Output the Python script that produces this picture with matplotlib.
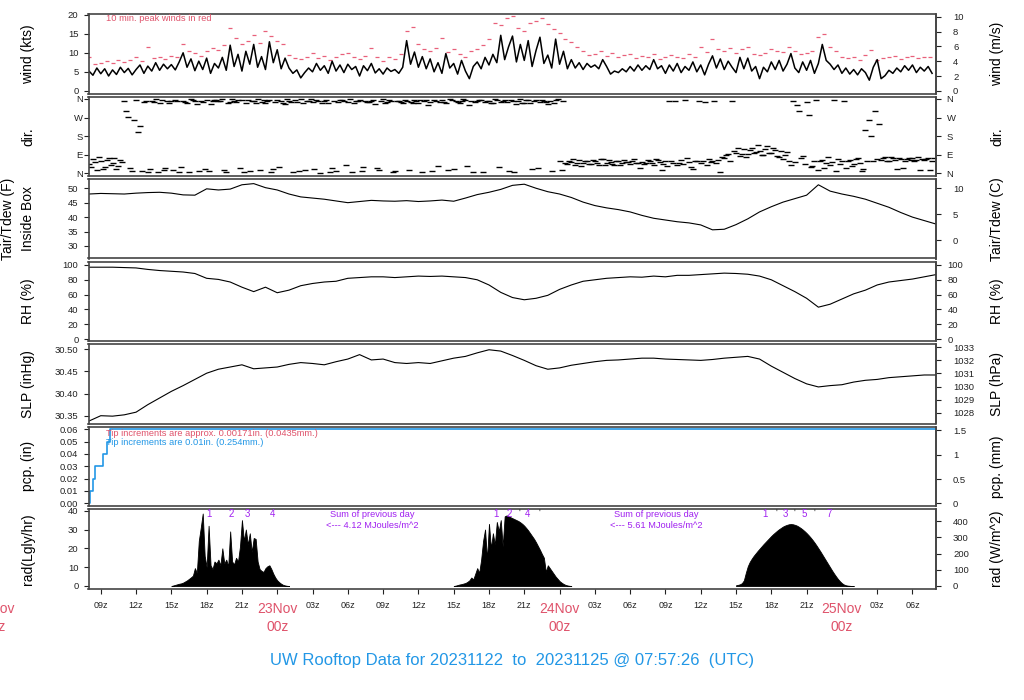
import numpy as np
import matplotlib
matplotlib.use("Agg")
import matplotlib.pyplot as plt
import matplotlib.transforms as mtransforms

plt.rcParams['font.family'] = ['Liberation Sans', 'DejaVu Sans']

# time axis: hours after 22Nov 00z
T0, T1 = 7.957, 79.957

# wind speed (kts), every 20 min starting 22Nov 08z
wind_kts = [
    5.2, 4.1, 6.0, 4.5, 5.8, 3.9, 5.5, 4.3, 6.2, 4.8, 5.9, 4.2,
    5.6, 6.8, 4.6, 6.5, 5.2, 7.4, 5.4, 7.0, 5.8, 6.9, 5.5, 7.6,
    10.0, 6.2, 8.4, 5.3, 7.8, 5.6, 8.6, 4.6, 7.2, 6.0, 8.8, 5.4,
    12.0, 6.4, 9.6, 5.2, 10.4, 7.0, 12.2, 6.2, 9.0, 5.6, 12.9, 7.4,
    10.8, 5.8, 8.6, 6.0, 4.6, 5.5, 3.4, 4.8, 6.0, 5.0, 7.2, 5.4,
    6.6, 4.6, 7.8, 5.2, 6.8, 4.8, 7.0, 5.6, 6.4, 3.9, 6.6, 5.3,
    7.2, 4.7, 5.8, 4.4, 6.0, 5.1, 5.6, 4.6, 6.2, 13.2, 7.0, 10.2,
    6.2, 9.0, 5.8, 8.4, 5.0, 7.4, 4.6, 9.8, 6.0, 7.2, 4.4, 8.0,
    5.2, 3.2, 6.4, 7.6, 5.8, 8.8, 6.8, 9.6, 7.4, 14.6, 8.2, 11.6,
    14.4, 7.6, 12.2, 8.0, 13.2, 6.4, 10.6, 14.1, 7.2, 9.4, 6.0, 13.6,
    7.0, 10.4, 5.8, 8.2, 6.0, 7.4, 5.6, 7.2, 6.2, 6.8, 5.8, 8.2,
    6.4, 4.4, 5.2, 4.8, 5.8, 5.0, 6.4, 5.2, 6.8, 5.4, 6.6, 5.6,
    8.2, 5.8, 6.6, 4.6, 6.8, 5.2, 7.2, 4.8, 6.4, 5.4, 7.6, 5.0,
    6.8, 4.2, 7.0, 9.2, 6.0, 8.4, 5.6, 7.8, 6.2, 4.8, 8.8, 5.8,
    8.6, 5.2, 6.4, 3.2, 6.2, 5.0, 7.6, 5.6, 8.0, 5.2, 7.0, 9.8,
    6.0, 4.8, 7.6, 5.4, 8.0, 4.6, 7.2, 12.2, 8.0, 7.0, 5.6, 6.8,
    4.6, 6.0, 4.4, 5.6, 4.2, 5.8, 4.8, 2.8, 6.2, 8.2, 3.2, 4.0,
    5.4, 4.6, 6.0, 5.0, 6.6, 5.4, 6.8, 4.8, 6.2, 5.2, 6.4, 4.6,
]

# 10 min. peak winds (kts), every 30 min starting 08z
peak_kts = [
    8.8, 7.0, 7.4, 7.8, 7.2, 8.0, 7.6, 8.2, 8.8, 7.8, 11.4, 8.6,
    9.0, 8.4, 9.2, 8.8, 12.2, 10.6, 10.0, 9.2, 10.4, 11.2, 10.8, 12.0,
    16.4, 14.0, 12.2, 13.0, 14.6, 12.6, 15.6, 14.4, 13.0, 12.2, 9.4, 8.6,
    8.4, 9.0, 10.0, 8.6, 9.2, 8.2, 8.8, 9.6, 10.0, 8.8, 8.4, 9.2,
    11.2, 8.8, 7.8, 9.0, 8.4, 9.6, 15.6, 16.8, 12.4, 11.0, 10.4, 11.2,
    13.8, 10.2, 11.0, 9.8, 9.0, 10.6, 11.0, 12.0, 13.6, 17.8, 17.4, 19.2,
    19.6, 16.4, 15.6, 17.8, 18.4, 19.2, 17.6, 16.2, 15.2, 13.6, 12.8, 11.6,
    10.6, 9.4, 9.8, 10.4, 9.2, 10.0, 8.8, 9.4, 9.6, 8.6, 9.2, 8.8,
    9.6, 8.4, 8.8, 9.4, 9.0, 8.6, 9.8, 8.8, 11.6, 10.2, 13.6, 11.0,
    10.6, 11.2, 10.0, 11.0, 11.4, 9.8, 9.4, 10.0, 11.0, 10.4, 10.2, 11.4,
    10.6, 9.6, 10.0, 10.6, 14.2, 15.0, 11.6, 10.4, 9.0, 8.6, 8.8, 8.2,
    9.4, 10.8, 8.0, 8.6, 8.8, 9.2, 8.4, 9.0, 9.2, 8.6, 8.8, 9.0,
]

# wind direction (deg), every 20 min starting 08z
wind_dir = [
    45, 70, 15, 60, 30, 75, 50, 20, 65, 350, 275, 10,
    355, 230, 345, 5, 350, 358, 340, 15, 352, 348, 356, 8,
    352, 342, 358, 350, 12, 346, 356, 338, 354, 348, 358, 5,
    344, 352, 356, 355, 340, 10, 350, 358, 345, 342, 354, 20,
    356, 348, 335, 352, 8, 344, 358, 15, 350, 346, 354, 3,
    352, 340, 25, 12, 356, 348, 344, 5, 352, 355, 30, 347,
    350, 338, 18, 358, 345, 352, 10, 350, 342, 352, 345, 356,
    340, 8, 354, 347, 355, 35, 353, 342, 359, 20, 346, 351,
    356, 330, 6, 348, 354, 343, 352, 340, 357, 345, 355, 12,
    350, 336, 358, 342, 356, 22, 354, 347, 350, 338, 10, 355,
    60, 352, 45, 55, 40, 65, 50, 62, 45, 58, 42, 68,
    48, 55, 40, 62, 50, 57, 45, 68, 52, 55, 48, 60,
    42, 65, 15, 58, 350, 50, 40, 66, 355, 55, 20, 62,
    48, 345, 70, 60, 52, 8, 75, 95, 352, 100, 85, 118,
    92, 125, 105, 110, 88, 130, 96, 115, 80, 70, 105, 40,
    55, 300, 85, 345, 30, 60, 15, 65, 50, 40, 355, 70,
    58, 25, 65, 45, 72, 10, 210, 260, 60, 70, 65, 78,
    62, 75, 20, 68, 58, 74, 72, 64, 15, 66, 76, 60,
]
# second direction reading, every 20 min starting 08:10z
wind_dir_b = [
    30, 55, 80, 20, 65, 40, 75, 35, 55, 300, 25, 260,
    200, 10, 350, 20, 345, 5, 356, 25, 340, 15, 350, 30,
    345, 5, 355, 338, 352, 20, 10, 348, 357, 352, 15, 342,
    358, 346, 25, 8, 354, 348, 340, 18, 356, 352, 4, 346,
    30, 342, 358, 345, 355, 12, 340, 352, 358, 20, 348, 342,
    356, 8, 350, 346, 353, 40, 358, 340, 350, 10, 352, 345,
    354, 28, 348, 342, 356, 8, 350, 346, 355, 15, 340, 352,
    357, 349, 330, 12, 352, 344, 346, 18, 355, 352, 340, 358,
    35, 350, 345, 356, 5, 352, 342, 358, 30, 350, 345, 354,
    8, 352, 342, 357, 340, 350, 25, 355, 345, 350, 342, 358,
    15, 50, 62, 70, 48, 35, 58, 44, 66, 52, 70, 38,
    63, 46, 58, 40, 66, 54, 60, 50, 25, 47, 64, 52,
    68, 55, 45, 35, 60, 348, 52, 44, 72, 30, 58, 350,
    62, 40, 55, 350, 66, 80, 88, 60, 110, 122, 95, 78,
    115, 98, 135, 90, 120, 100, 125, 85, 108, 90, 60, 350,
    330, 75, 45, 280, 35, 355, 60, 25, 80, 55, 10, 45,
    350, 62, 35, 68, 50, 20, 60, 180, 300, 240, 75, 62,
    80, 66, 72, 25, 70, 64, 58, 78, 68, 70, 15, 74,
]

# hourly values starting 08z
tair_f = [
    48.0, 48.2, 48.1, 48.0, 48.3, 48.5, 48.6, 48.3, 47.7, 47.6, 49.8, 49.4,
    49.7, 51.2, 51.6, 50.2, 49.4, 48.0, 47.0, 46.6, 46.2, 45.6, 45.0, 45.4,
    45.8, 45.6, 45.5, 45.7, 45.4, 45.6, 45.9, 45.5, 46.6, 47.8, 48.6, 49.6,
    51.0, 51.4, 50.0, 48.8, 48.0, 46.8, 45.2, 44.0, 43.2, 42.6, 41.8, 40.6,
    39.6, 39.0, 38.4, 38.0, 37.3, 35.6, 35.8, 37.4, 39.4, 41.8, 43.6, 45.2,
    46.4, 47.6, 51.2, 49.0, 48.0, 47.2, 46.2, 44.8, 43.4, 41.6, 40.0, 38.8,
    37.6,
]
rh_pct = [
    97, 97, 97, 96.5, 96, 94, 92.5, 91.5, 90.5, 88.5, 82, 80.5,
    77, 70, 64, 70, 62.5, 66, 72, 75, 77, 78, 82, 83,
    84, 84, 83, 84, 85, 84.5, 85, 84, 83, 80, 73, 63,
    56, 53, 55, 59, 67, 73, 78, 80, 82, 83, 84, 83.5,
    85, 84, 86, 86, 87, 88, 89, 88.5, 87.5, 85, 80, 72,
    64, 55, 43, 47, 54, 61, 66, 73, 77, 79, 81, 84,
    87,
]
slp_inhg = [
    30.338, 30.350, 30.349, 30.352, 30.358, 30.375, 30.390, 30.405, 30.418, 30.432, 30.446, 30.455,
    30.460, 30.465, 30.456, 30.458, 30.460, 30.466, 30.470, 30.468, 30.465, 30.472, 30.478, 30.488,
    30.476, 30.478, 30.470, 30.468, 30.470, 30.468, 30.474, 30.480, 30.484, 30.492, 30.499, 30.496,
    30.486, 30.475, 30.463, 30.455, 30.458, 30.464, 30.468, 30.472, 30.475, 30.476, 30.478, 30.480,
    30.480, 30.478, 30.477, 30.476, 30.475, 30.477, 30.480, 30.482, 30.484, 30.478, 30.462, 30.448,
    30.434, 30.422, 30.415, 30.418, 30.420, 30.426, 30.430, 30.432, 30.436, 30.438, 30.440, 30.442,
    30.442,
]

# precipitation (in), accumulated tips
pcp_hours = [7.96, 8.05, 8.30, 8.50, 9.21, 9.49, 9.78, 79.96]
pcp_in = [0.00, 0.01, 0.02, 0.03, 0.04, 0.05, 0.06, 0.06]

# solar radiation (Lgly/hr), every 10 min for each daylight period
rad_day_start = [15.0, 39.0, 63.0]
rad_day1 = [
    0, 0.3, 0.6, 0.9, 1.2, 1.4, 1.8, 2.4, 3.0, 3.8, 4.6, 5.5,
    9.5, 7.0, 24.0, 31.0, 38.5, 16.0, 10.0, 32.0, 11.0, 9.0, 13.0, 12.0,
    14.0, 11.0, 20.0, 12.0, 14.0, 10.5, 29.0, 13.0, 11.5, 15.0, 13.0, 21.0,
    35.0, 24.0, 30.0, 22.0, 28.0, 18.0, 25.5, 25.0, 13.0, 9.0, 8.0, 7.5,
    9.5, 10.5, 11.0, 9.0, 6.5, 4.5, 3.0, 2.0, 1.2, 0.6, 0.3, 0.1, 0,
]
rad_day2 = [
    0, 0.2, 0.5, 0.8, 1.0, 1.3, 1.6, 2.2, 3.0, 4.5, 3.5, 6.5,
    9.5, 7.0, 14.0, 24.0, 30.0, 14.0, 33.0, 20.0, 28.0, 22.0, 34.0, 29.0,
    35.0, 21.0, 37.0, 37.5, 37.0, 36.5, 36.0, 35.5, 35.0, 34.5, 33.8, 33.0,
    32.0, 30.8, 29.5, 28.0, 26.5, 25.0, 23.2, 21.2, 19.2, 17.0, 15.0, 7.5,
    11.0, 9.5, 8.0, 6.5, 5.0, 3.8, 2.6, 1.8, 1.1, 0.6, 0.3, 0.1, 0,
]
rad_day3 = [
    0.4, 0.6, 0.9, 1.5, 3.0, 7.0, 10.5, 12.8, 14.5, 16.0, 17.3, 18.6,
    19.8, 21.0, 22.2, 23.3, 24.4, 25.5, 26.6, 27.6, 28.5, 29.4, 30.2, 30.9,
    31.6, 32.1, 32.5, 32.8, 32.9, 32.8, 32.5, 32.1, 31.5, 30.8, 30.0, 29.1,
    28.1, 27.0, 25.8, 24.5, 23.1, 21.6, 20.0, 18.4, 16.7, 15.0, 13.3, 11.6,
    9.9, 8.2, 6.6, 5.1, 3.7, 2.5, 1.5, 0.8, 0.4, 0.2, 0.1, 0.0, 0,
]
rad_mark_hours = [18.17, 20.05, 21.49, 23.62, 42.6, 43.7, 44.6, 45.3, 46.3,
                  65.5, 66.4, 67.2, 67.96, 68.8, 69.7, 70.9]
rad_mark_text = ["1", "2", "3", "4", "1", "2", "'", "4", "'",
                 "1", "'", "3", "'", "5", "'", "7"]
rad_sum_hours = [32.05, 56.2]
rad_sum_text = ["4.12", "5.61"]

day_names = ["22Nov", "23Nov", "24Nov", "25Nov"]
day_hours = [0, 24, 48, 72]

RED = "#DF536B"
PINK = "#E8607A"
BLUE = "#2297E6"
PURPLE = "#A020F0"
FRAME = "#444444"

W, H = 1024, 700
fig = plt.figure(figsize=(W / 100, H / 100), dpi=100)

panel_h = 79.5
def make_panel(i, ylim):
    top = 14 + 82.5 * i
    ax = fig.add_axes([88.5 / W, 1 - (top + panel_h) / H, 847 / W, panel_h / H])
    ax.set_xlim(T0, T1)
    ax.set_ylim(*ylim)
    for s in ax.spines.values():
        s.set_color(FRAME)
        s.set_linewidth(1.2)
    ax.tick_params(axis='y', direction='out', length=3.6, width=0.8,
                   labelsize=6.8, pad=3.6, colors='#222222')
    ax.set_xticks([])
    return ax, (top + panel_h / 2)

def add_right(ax, fwd, inv, ticks, labels=None, pad=9):
    sec = ax.secondary_yaxis('right', functions=(fwd, inv))
    sec.set_yticks(ticks)
    if labels is not None:
        sec.set_yticklabels(labels)
    sec.tick_params(direction='out', length=3.6, width=0.8, labelsize=6.8,
                    pad=pad, colors='#222222')
    sec.spines['right'].set_color(FRAME)
    sec.spines['right'].set_linewidth(1.2)
    return sec

def side_labels(yc, left, right, left2=None):
    kw = dict(rotation=90, ha='center', va='center', fontsize=10)
    if left2 is None:
        fig.text(28 / W, 1 - yc / H, left, **kw)
    else:
        fig.text(8 / W, 1 - yc / H, left, **kw)
        fig.text(28 / W, 1 - yc / H, left2, **kw)
    fig.text(997 / W, 1 - yc / H, right, **kw)

hours_wind = T0 + 0.043 + np.arange(len(wind_kts)) / 3.0
hours_peak = T0 + 0.043 + np.arange(len(peak_kts)) / 2.0
hours_dir = T0 + 0.043 + np.arange(len(wind_dir)) / 3.0
hours_dir_b = hours_dir + 1.0 / 6.0
hours_hourly = 8 + np.arange(len(tair_f))

# wind
ax, yc = make_panel(0, (-0.7, 20.2))
ax.plot(hours_peak, peak_kts, ls='none', marker='_', ms=3.5, mew=0.9, color=PINK)
ax.plot(hours_wind, wind_kts, color='black', lw=1.1)
ax.set_yticks([0, 5, 10, 15, 20])
add_right(ax, lambda v: v * 0.514444, lambda v: v / 0.514444, [0, 2, 4, 6, 8, 10])
ax.text(9.47, 0.94, "10 min. peak winds in red", color=RED, fontsize=6.7,
        ha='left', va='center', transform=mtransforms.blended_transform_factory(ax.transData, ax.transAxes))
side_labels(yc, "wind (kts)", "wind (m/s)")

# direction
ax, yc = make_panel(1, (-13, 372))
ax.plot(hours_dir, wind_dir, ls='none', marker='_', ms=4, mew=1.0, color='black')
ax.plot(hours_dir_b, wind_dir_b, ls='none', marker='_', ms=4, mew=1.0, color='black')
ax.set_yticks([0, 90, 180, 270, 360])
ax.set_yticklabels(["N", "E", "S", "W", "N"])
ax.tick_params(axis='y', pad=0.5)
add_right(ax, lambda v: v, lambda v: v, [0, 90, 180, 270, 360], ["N", "E", "S", "W", "N"], pad=4.3)
side_labels(yc, "dir.", "dir.")

# temperature
ax, yc = make_panel(2, (25.67, 53.2))
ax.plot(hours_hourly, tair_f, color='black', lw=0.8)
ax.set_yticks([30, 35, 40, 45, 50])
add_right(ax, lambda v: (v - 32) * 5 / 9, lambda v: v * 9 / 5 + 32, [0, 5, 10])
side_labels(yc, "Tair/Tdew (F)", "Tair/Tdew (C)", left2="Inside Box")

# RH
ax, yc = make_panel(3, (-2.7, 104.7))
ax.plot(hours_hourly, rh_pct, color='black', lw=0.8)
ax.set_yticks([0, 20, 40, 60, 80, 100])
add_right(ax, lambda v: v, lambda v: v, [0, 20, 40, 60, 80, 100], pad=5)
side_labels(yc, "RH (%)", "RH (%)")

# SLP
ax, yc = make_panel(4, (30.3324, 30.512))
ax.plot(hours_hourly, slp_inhg, color='black', lw=0.8)
ax.set_yticks([30.35, 30.40, 30.45, 30.50])
ax.set_yticklabels(["30.35", "30.40", "30.45", "30.50"])
add_right(ax, lambda v: v * 33.8639, lambda v: v / 33.8639, [1028, 1029, 1030, 1031, 1032, 1033])
side_labels(yc, "SLP (inHg)", "SLP (hPa)")

# precipitation
ax, yc = make_panel(5, (-0.0022, 0.0623))
ax.plot(pcp_hours, pcp_in, color=BLUE, lw=1.2, drawstyle='steps-post')
ax.set_yticks([0, 0.01, 0.02, 0.03, 0.04, 0.05, 0.06])
ax.set_yticklabels(["0.00", "0.01", "0.02", "0.03", "0.04", "0.05", "0.06"])
add_right(ax, lambda v: v * 25.4, lambda v: v / 25.4, [0, 0.5, 1, 1.5], ["0", "0.5", "1", "1.5"])
tr = mtransforms.blended_transform_factory(ax.transData, ax.transAxes)
ax.text(9.47, 0.91, "Tip increments are approx. 0.00171in. (0.0435mm.)", color=RED,
        fontsize=6.7, ha='left', va='center', transform=tr)
ax.text(9.47, 0.80, "Tip increments are 0.01in. (0.254mm.)", color=BLUE,
        fontsize=6.7, ha='left', va='center', transform=tr)
side_labels(yc, "pcp. (in)", "pcp. (mm)")

# radiation
ax, yc = make_panel(6, (-1.33, 40.9))
for start, vals in zip(rad_day_start, [rad_day1, rad_day2, rad_day3]):
    hrs = start + np.arange(len(vals)) / 6.0
    ax.fill_between(hrs, 0, vals, color='black', lw=0.6)
ax.set_yticks([0, 10, 20, 30, 40])
add_right(ax, lambda v: v * 11.622, lambda v: v / 11.622, [0, 100, 200, 300, 400])
tr = mtransforms.blended_transform_factory(ax.transData, ax.transAxes)
for h, s in zip(rad_mark_hours, rad_mark_text):
    ax.text(h, 0.935, s, color=PURPLE if s != "'" else '#333333', fontsize=7,
            ha='center', va='center', transform=tr)
for h, s in zip(rad_sum_hours, rad_sum_text):
    ax.text(h, 0.925, "Sum of previous day", color=PURPLE, fontsize=6.7,
            ha='center', va='center', transform=tr)
    ax.text(h, 0.787, "<--- %s MJoules/m^2" % s, color=PURPLE, fontsize=6.7,
            ha='center', va='center', transform=tr)
side_labels(yc, "rad(Lgly/hr)", "rad (W/m^2)")

xt = list(range(9, 80, 3))
ax.set_xticks(xt)
ax.set_xticklabels(["" if h % 24 == 0 else "%02dz" % (h % 24) for h in xt])
ax.tick_params(axis='x', direction='out', length=3.6, width=0.8, labelsize=6.5,
               pad=5.5, colors='#222222')
trf = mtransforms.blended_transform_factory(ax.transData, fig.transFigure)
for d, h in zip(day_names, day_hours):
    ax.text(h, 1 - 609 / H, d, color=RED, fontsize=10, ha='center', va='center',
            transform=trf, clip_on=False)
    ax.text(h, 1 - 627 / H, "00z", color=RED, fontsize=10, ha='center', va='center',
            transform=trf, clip_on=False)

fig.text(0.5, 1 - 660 / H, "UW Rooftop Data for 20231122  to  20231125 @ 07:57:26  (UTC)",
         color=BLUE, fontsize=12, ha='center', va='center')

fig.savefig("out.png", dpi=100)
